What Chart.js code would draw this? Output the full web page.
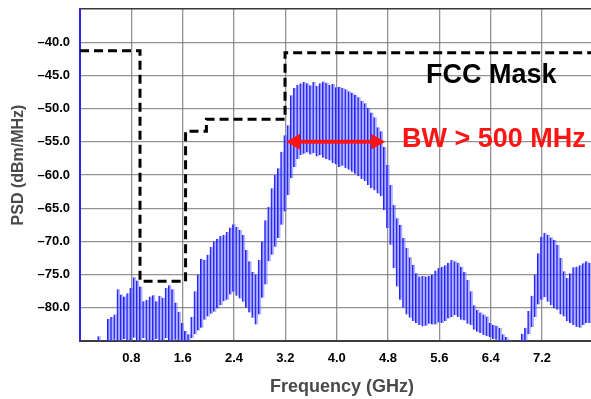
<!DOCTYPE html>
<html>
<head>
<meta charset="utf-8">
<script src="https://cdn.jsdelivr.net/npm/chart.js"></script>
<style>
  html, body { margin: 0; padding: 0; background: #fff; }
  #wrap { width: 591px; height: 399px; position: relative; }
</style>
</head>
<body>
<div id="wrap"><canvas id="psdChart"></canvas></div>
<script>
// UWB pulse spectrum, one sample every 0.05 GHz from 0 GHz
const FREQ_START = 0.0;
const FREQ_STEP = 0.05;

// spike tops (dBm/MHz)
const peakDbm = [
  -85, -85, -85, -85, -85, -85, -84.3, -85, -85, -81.7,
  -81.4, -81.0, -77.2, -78.0, -78.3, -77.8, -77.0, -75.4, -75.9, -76.8,
  -79.0, -78.8, -78.3, -78.1, -79.0, -78.2, -78.5, -77.0, -76.6, -77.2,
  -79.2, -80.6, -82.3, -83.5, -84.0, -81.4, -77.5, -75.0, -72.6, -72.8,
  -72.0, -70.8, -70.0, -69.6, -69.2, -69.0, -68.6, -67.9, -67.4, -67.8,
  -68.3, -69.0, -71.3, -73.0, -74.6, -75.0, -72.8, -70.0, -66.8, -64.8,
  -62.0, -60.0, -59.0, -56.5, -54.0, -52.5, -48.0, -46.9, -46.4, -46.2,
  -46.0, -46.2, -46.5, -46.0, -46.6, -46.2, -45.9, -46.1, -46.4, -46.3,
  -46.8, -46.7, -46.9, -47.1, -47.4, -47.6, -47.9, -48.3, -48.8, -49.2,
  -49.9, -50.6, -51.3, -52.8, -53.4, -55.8, -58.5, -61.5, -64.5, -66.5,
  -67.5, -69.5, -71.0, -72.4, -73.5, -74.8, -75.3, -75.2, -75.3, -75.2,
  -75.0, -74.4, -74.0, -73.8, -73.6, -73.2, -72.8, -73.0, -73.2, -73.8,
  -74.6, -75.8, -77.5, -79.6, -80.3, -80.7, -81.0, -81.3, -82.3, -82.6,
  -82.7, -83.0, -84.0, -84.4, -84.8, -85, -85, -84.9, -83.9, -83.0,
  -80.5, -78.2, -75.0, -71.8, -69.3, -68.7, -69.0, -69.4, -69.8, -70.5,
  -72.5, -74.5, -75.5, -74.8, -73.9, -73.8, -73.6, -73.3, -73.0, -73.2
];

// spike bottoms (dBm/MHz)
const floorDbm = [
  -85, -85, -85, -85, -85, -85, -85, -85, -85, -85,
  -85, -84.8, -85, -85, -84.7, -85, -85, -84.5, -85, -85,
  -84.6, -85, -85, -85, -84.7, -85, -85, -84.6, -85, -85,
  -84.8, -85, -85, -85, -85, -84.6, -84.0, -83.4, -83.0, -81.8,
  -81.3, -80.9, -80.6, -80.1, -79.6, -79.0, -78.8, -78.0, -77.6, -78.2,
  -78.6, -79.1, -80.0, -80.7, -81.5, -82.5, -81.0, -78.5, -76.5, -73.0,
  -72.0, -70.8, -69.5, -67.5, -65.5, -63.0, -60.5, -58.8, -57.6, -57.0,
  -56.8, -56.6, -56.9, -56.7, -57.2, -57.0, -57.4, -57.6, -57.8, -58.2,
  -58.4, -58.8, -58.6, -59.0, -59.2, -59.5, -59.8, -60.2, -60.6, -60.9,
  -61.5, -62.0, -62.3, -62.8, -63.2, -65.3, -68.0, -70.5, -74.0, -76.8,
  -78.8, -80.0, -81.0, -81.5, -82.0, -82.3, -82.6, -82.8, -82.7, -82.4,
  -82.5, -82.5, -82.2, -82.3, -82.0, -81.6, -81.4, -81.1, -81.4, -81.8,
  -81.9, -82.4, -82.6, -83.3, -83.6, -83.8, -84.1, -84.3, -84.4, -84.7,
  -84.8, -85, -85, -85, -85, -85, -85, -85, -85, -85,
  -84.0, -82.9, -81.4, -79.5, -78.8, -78.4, -79.1, -79.6, -80.1, -80.3,
  -81.0, -81.3, -82.0, -82.3, -82.6, -82.9, -83.0, -82.6, -82.3, -82.3
];

// FCC emission mask corners
const maskGhz = [0, 0.935, 0.935, 1.645, 1.645, 1.97, 1.97, 3.195, 3.195, 8.0];
const maskDbm = [-41.3, -41.3, -76.0, -76.0, -53.4, -53.4, -51.6, -51.6, -41.6, -41.6];

const xTicks = [0.8, 1.6, 2.4, 3.2, 4.0, 4.8, 5.6, 6.4, 7.2];
const yTicks = [-35, -40, -45, -50, -55, -60, -65, -70, -75, -80, -85];
const yLabelled = [-40, -45, -50, -55, -60, -65, -70, -75, -80];

// bandwidth arrow (GHz, dBm/MHz)
const bwFrom = 3.21;
const bwTo = 4.755;
const bwLevel = -55;

const FONT = "'Liberation Sans', Arial, sans-serif";

const spectrum = peakDbm.map((p, i) => ({ x: FREQ_START + i * FREQ_STEP, y: [floorDbm[i], p] }));
const mask = maskGhz.map((f, i) => ({ x: f, y: maskDbm[i] }));

const annotate = {
  id: 'annotate',
  afterDatasetsDraw(chart) {
    const { ctx, scales: { x, y } } = chart;
    ctx.save();

    // double arrow
    const x1 = x.getPixelForValue(bwFrom);
    const x2 = x.getPixelForValue(bwTo);
    const ya = y.getPixelForValue(bwLevel);
    const head = 14, half = 8;
    ctx.strokeStyle = '#ff1414';
    ctx.fillStyle = '#ff1414';
    ctx.lineWidth = 4;
    ctx.beginPath();
    ctx.moveTo(x1 + head - 2, ya);
    ctx.lineTo(x2 - head + 2, ya);
    ctx.stroke();
    ctx.beginPath();
    ctx.moveTo(x1, ya);
    ctx.lineTo(x1 + head, ya - half);
    ctx.lineTo(x1 + head, ya + half);
    ctx.closePath();
    ctx.fill();
    ctx.beginPath();
    ctx.moveTo(x2, ya);
    ctx.lineTo(x2 - head, ya - half);
    ctx.lineTo(x2 - head, ya + half);
    ctx.closePath();
    ctx.fill();

    ctx.textAlign = 'center';
    ctx.textBaseline = 'middle';
    ctx.font = 'bold 27px ' + FONT;
    ctx.fillStyle = '#000';
    ctx.fillText('FCC Mask', x.getPixelForValue(6.41), y.getPixelForValue(-44.95));
    ctx.fillStyle = '#ff1414';
    ctx.fillText('BW > 500 MHz', x.getPixelForValue(6.45), y.getPixelForValue(-54.65));
    ctx.restore();
  },
  afterDraw(chart) {
    const { ctx } = chart;
    ctx.save();
    ctx.fillStyle = '#4a4a4a';
    ctx.font = 'bold 18px ' + FONT;
    ctx.textAlign = 'center';
    ctx.textBaseline = 'alphabetic';
    ctx.fillText('Frequency (GHz)', 342, 392);
    ctx.translate(23, 165);
    ctx.rotate(-Math.PI / 2);
    ctx.font = 'bold 16px ' + FONT;
    ctx.fillText('PSD (dBm/MHz)', 0, 0);
    ctx.restore();
  }
};

new Chart(document.getElementById('psdChart'), {
  type: 'bar',
  data: {
    datasets: [
      {
        type: 'line',
        data: mask,
        borderColor: '#000',
        borderWidth: 3,
        borderDash: [9, 5],
        pointRadius: 0,
        fill: false,
        tension: 0,
        order: 0
      },
      {
        type: 'bar',
        data: spectrum,
        backgroundColor: 'rgba(90, 90, 255, 0.45)',
        borderColor: '#2020ff',
        borderWidth: { left: 1, right: 0, top: 0, bottom: 0 },
        borderSkipped: false,
        barPercentage: 1,
        categoryPercentage: 1,
        order: 1
      }
    ]
  },
  options: {
    responsive: true,
    maintainAspectRatio: false,
    animation: false,
    layout: { padding: { top: 9, left: 0, right: 0, bottom: 0 } },
    plugins: { legend: { display: false }, tooltip: { enabled: false } },
    scales: {
      x: {
        type: 'linear',
        min: 0,
        max: 7.963,
        offset: false,
        afterFit: s => { s.height = 58; s.paddingRight = 0; },
        afterBuildTicks: s => { s.ticks = xTicks.map(v => ({ value: v })); },
        grid: { color: 'rgba(120,120,120,0.8)', lineWidth: 1.3, drawTicks: false, tickLength: 0, offset: false },
        border: { color: '#3c3c3c', width: 2 },
        ticks: {
          padding: 10,
          maxRotation: 0,
          autoSkip: false,
          color: '#000',
          font: { family: FONT, size: 13, weight: 'bold' },
          callback: v => v.toFixed(1)
        }
      },
      y: {
        min: -85,
        max: -35,
        afterFit: s => { s.width = 80; s.paddingTop = 0; s.paddingBottom = 0; },
        afterBuildTicks: s => { s.ticks = yTicks.map(v => ({ value: v })); },
        grid: {
          drawTicks: false,
          tickLength: 0,
          lineWidth: c => (c.tick && c.tick.value === -35 ? 1.6 : 1.3),
          color: c => (c.tick && c.tick.value === -35 ? '#3a3a3a' : 'rgba(120,120,120,0.8)')
        },
        border: { color: '#2a2ae0', width: 2 },
        ticks: {
          padding: 10,
          autoSkip: false,
          color: '#000',
          font: { family: FONT, size: 13, weight: 'bold' },
          callback: v => (yLabelled.includes(v) ? '\u2013' + Math.abs(v).toFixed(1) : '')
        }
      }
    }
  },
  plugins: [annotate]
});
</script>
</body>
</html>
